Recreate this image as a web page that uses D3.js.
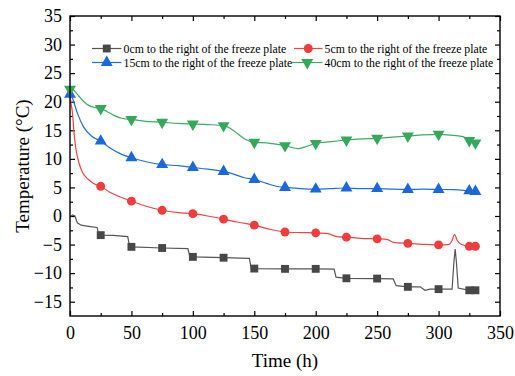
<!DOCTYPE html>
<html>
<head>
<meta charset="utf-8">
<script src="https://cdn.jsdelivr.net/npm/d3@7"></script>
<style>
  body { margin: 0; background: #fff; }
  text { font-family: "Liberation Serif", "Times New Roman", serif; fill: #000; }
</style>
</head>
<body>
<div id="chart"></div>
<script>
// Marker positions (h) shared by all four series
const markerTimes = [0, 25, 50, 75, 100, 125, 150, 175, 200, 225, 250, 275, 300, 325, 330];

// Marker values (°C), null where no marker is shown
const marks0 = [null, -3.35, -5.4, -5.6, -7.15, -7.3, -9.2, -9.25, -9.25, -10.9, -10.95, -12.4, -12.8, -13.0, -13.0];
const marks5 = [null, 5.2, 2.6, 1.0, 0.4, -0.55, -1.6, -2.8, -2.95, -3.7, -4.0, -4.8, -5.05, -5.3, -5.3];
const marks15 = [21.3, 13.1, 10.2, 9.0, 8.5, 7.8, 6.4, 5.0, 4.7, 4.9, 4.8, 4.65, 4.65, 4.4, 4.3];
const marks40 = [22.2, 18.8, 16.9, 16.4, 16.1, 15.8, 12.9, 12.3, 12.7, 13.3, 13.6, 14.0, 14.3, 13.2, 12.8];

const trace0 = [[0, -0.2], [2, 0.2], [4, 0.0], [6, -1.2], [9, -1.6], [15, -1.8], [22, -2.0], [23.5, -3.2], [25, -3.35],
  [35, -3.4], [47, -3.6], [48.5, -5.3], [50, -5.4], [75, -5.6], [96, -5.7], [97.5, -7.1], [100, -7.15], [125, -7.3],
  [146, -7.4], [147.5, -9.1], [150, -9.2], [175, -9.25], [200, -9.25], [215, -9.3], [216.5, -10.7], [225, -10.9],
  [250, -10.95], [263, -11.0], [265.5, -12.2], [275, -12.4], [285, -12.4], [289, -13.0], [293, -12.8], [300, -12.8],
  [311, -12.8], [312.5, -8.0], [313.5, -5.8], [314.5, -8.0], [316, -12.6], [325, -13.0], [330, -13.0]];
const trace5 = [[0, 21.2], [1, 19.5], [2, 18.0], [3.3, 14.5], [4.5, 12.2], [6, 10.4], [8, 8.8], [10, 7.7], [13, 6.8],
  [16, 6.2], [20, 5.6], [25, 5.2], [32, 4.2], [40, 3.4], [50, 2.6], [62, 1.7], [75, 1.0], [88, 0.6], [100, 0.4],
  [112, 0.0], [125, -0.55], [137, -1.1], [150, -1.6], [162, -2.3], [175, -2.8], [187, -2.9], [200, -2.95], [210, -3.1],
  [217, -3.6], [225, -3.7], [237, -3.9], [250, -4.0], [258, -4.1], [263, -4.6], [275, -4.8], [287, -4.95], [300, -5.05],
  [308, -5.0], [311, -4.3], [313, -3.2], [315, -4.2], [318, -4.9], [325, -5.3], [330, -5.3]];
const trace15 = [[0, 21.5], [2, 20.6], [6, 18.0], [11, 15.6], [18, 13.9], [25, 13.1], [32, 12.0], [40, 11.0], [50, 10.2],
  [62, 9.5], [75, 9.0], [88, 8.8], [100, 8.5], [112, 8.2], [125, 7.8], [135, 7.2], [142, 6.7], [150, 6.4], [160, 5.7],
  [168, 5.2], [175, 5.0], [187, 4.8], [200, 4.7], [212, 4.8], [225, 4.9], [237, 4.8], [250, 4.8], [262, 4.7], [275, 4.65],
  [287, 4.7], [300, 4.65], [312, 4.6], [320, 4.5], [325, 4.4], [330, 4.3]];
const trace40 = [[0, 22.3], [3, 22.0], [6, 21.3], [10, 20.3], [14, 19.5], [20, 19.0], [25, 18.8], [30, 18.3], [35, 17.7],
  [42, 17.1], [50, 16.9], [60, 16.6], [75, 16.4], [88, 16.2], [100, 16.1], [112, 16.0], [125, 15.8], [130, 15.4],
  [137, 14.3], [143, 13.4], [150, 12.9], [160, 12.8], [175, 12.3], [186, 11.8], [193, 12.2], [200, 12.7], [212, 13.0],
  [225, 13.3], [237, 13.5], [250, 13.6], [262, 13.8], [275, 14.0], [287, 14.2], [300, 14.3], [312, 14.1], [320, 13.9],
  [325, 13.2], [330, 12.8]];

const legendLabels = [
  '0cm to the right of the freeze plate',
  '5cm to the right of the freeze plate',
  '15cm to the right of the freeze plate',
  '40cm to the right of the freeze plate'
];
const xTicks = [0, 50, 100, 150, 200, 250, 300, 350];
const xMinor = [25, 75, 125, 175, 225, 275, 325];
const yTicks = [-15, -10, -5, 0, 5, 10, 15, 20, 25, 30, 35];
const yMinor = [-12.5, -7.5, -2.5, 2.5, 7.5, 12.5, 17.5, 22.5, 27.5, 32.5];

const width = 515, height = 376;
const plot = { left: 70, right: 500, top: 16, bottom: 316 };

const svg = d3.select('#chart').append('svg')
  .attr('width', width)
  .attr('height', height);

const x = d3.scaleLinear().domain([0, 350]).range([plot.left, plot.right]);
const y = d3.scaleLinear().domain([-17.5, 35]).range([plot.bottom, plot.top]);

// Ticks point inwards on all four sides
function addAxis(axisFn, scale, values, size, pos, labels) {
  const a = axisFn(scale).tickValues(values).tickSizeInner(-size).tickSizeOuter(0);
  if (!labels) a.tickFormat('');
  else a.tickPadding(axisFn === d3.axisLeft ? 8 : 10);
  const g = svg.append('g').attr('transform', pos).call(a);
  g.select('.domain').remove();
  g.selectAll('line').attr('stroke', '#000').attr('stroke-width', 1.2);
  g.selectAll('text').style('font-size', '18px');
  return g;
}
addAxis(d3.axisBottom, x, xTicks, 5, `translate(0,${plot.bottom})`, true);
addAxis(d3.axisBottom, x, xMinor, 3, `translate(0,${plot.bottom})`, false);
addAxis(d3.axisTop, x, xTicks, 5, `translate(0,${plot.top})`, false);
addAxis(d3.axisTop, x, xMinor, 3, `translate(0,${plot.top})`, false);
addAxis(d3.axisLeft, y, yTicks, 5, `translate(${plot.left},0)`, true);
addAxis(d3.axisLeft, y, yMinor, 3, `translate(${plot.left},0)`, false);
addAxis(d3.axisRight, y, yTicks, 5, `translate(${plot.right},0)`, false);
addAxis(d3.axisRight, y, yMinor, 3, `translate(${plot.right},0)`, false);

// Series
const series = [
  { trace: trace0, marks: marks0, color: '#555555', mark: '#474747', symbol: d3.symbolSquare, rot: 0, curve: d3.curveLinear },
  { trace: trace5, marks: marks5, color: '#f24343', mark: '#f03c3c', symbol: d3.symbolCircle, rot: 0, curve: d3.curveMonotoneX },
  { trace: trace15, marks: marks15, color: '#1f6fe0', mark: '#1a68dc', symbol: d3.symbolTriangle, rot: 0, curve: d3.curveMonotoneX },
  { trace: trace40, marks: marks40, color: '#3aad62', mark: '#34a95c', symbol: d3.symbolTriangle, rot: 180, curve: d3.curveMonotoneX }
];
const markSize = 62;

series.forEach(s => {
  const line = d3.line().x(d => x(d[0])).y(d => y(d[1])).curve(s.curve);
  svg.append('path')
    .datum(s.trace)
    .attr('d', line)
    .attr('fill', 'none')
    .attr('stroke', s.color)
    .attr('stroke-width', 1.2);

  const pts = markerTimes.map((t, i) => [t, s.marks[i]]).filter(d => d[1] !== null);
  svg.selectAll(null)
    .data(pts)
    .enter()
    .append('path')
    .attr('d', d3.symbol().type(s.symbol).size(markSize))
    .attr('transform', d => `translate(${x(d[0])},${y(d[1])}) rotate(${s.rot})`)
    .attr('fill', s.mark);
});

// Frame
svg.append('rect')
  .attr('x', plot.left).attr('y', plot.top)
  .attr('width', plot.right - plot.left).attr('height', plot.bottom - plot.top)
  .attr('fill', 'none')
  .attr('stroke', '#000')
  .attr('stroke-width', 1.4);

// Legend, two columns by two rows
const legendPos = [[92, 48.5], [294, 48.5], [92, 62.5], [292, 62.5]];
series.forEach((s, i) => {
  const [lx, ly] = legendPos[i];
  const lineEnd = 121.5 + (i % 2) * 201;
  const g = svg.append('g');
  g.append('line')
    .attr('x1', lx).attr('x2', lineEnd)
    .attr('y1', ly).attr('y2', ly)
    .attr('stroke', s.color)
    .attr('stroke-width', 1.2);
  g.append('path')
    .attr('d', d3.symbol().type(s.symbol).size(markSize))
    .attr('transform', `translate(${(lx + lineEnd) / 2},${ly}) rotate(${s.rot})`)
    .attr('fill', s.mark);
  g.append('text')
    .attr('x', lineEnd + 2)
    .attr('y', ly + 4)
    .style('font-size', '11.8px')
    .text(legendLabels[i]);
});

// Axis titles
svg.append('text')
  .attr('x', (plot.left + plot.right) / 2)
  .attr('y', 367)
  .attr('text-anchor', 'middle')
  .style('font-size', '19px')
  .text('Time (h)');

svg.append('text')
  .attr('transform', `translate(29,${(plot.top + plot.bottom) / 2}) rotate(-90)`)
  .attr('text-anchor', 'middle')
  .style('font-size', '19px')
  .text('Temperature (°C)');
</script>
</body>
</html>
